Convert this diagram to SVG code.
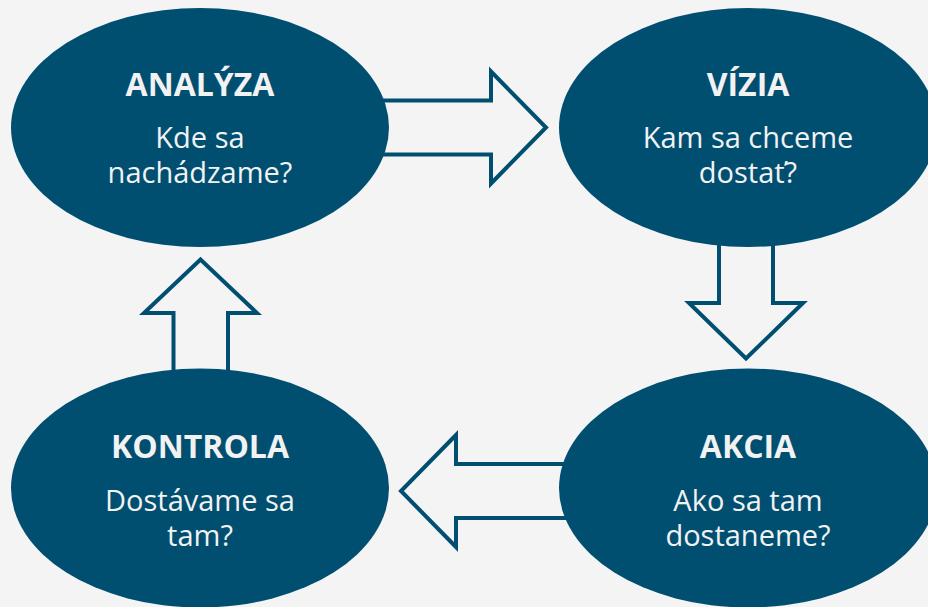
<svg xmlns="http://www.w3.org/2000/svg" width="928" height="607" viewBox="0 0 928 607">
<style>
.bg{fill:#f4f4f4}
.arrow{fill:#f4f4f4;stroke:#004f71;stroke-width:4;stroke-linejoin:miter}
.node{fill:#004f71}
.title{font-family:"Open Sans","Liberation Sans",sans-serif;font-weight:bold;font-size:32px;fill:#f2f2f2;text-anchor:middle}
.body{font-family:"Open Sans","Liberation Sans",sans-serif;font-size:29px;fill:#f2f2f2;text-anchor:middle}
</style>
<rect class="bg" x="0" y="0" width="928" height="607"/>
<g id="connectors">
<path class="arrow" d="M360,100.5 H491 V71.5 L546,127.5 L491,183.5 V154.5 H360 Z"/>
<path class="arrow" d="M719,230 V303 H689 L746,358.5 L803,303 H773 V230 Z"/>
<path class="arrow" d="M590,464 H456 V435 L401,491 L456,547 V518 H590 Z"/>
<path class="arrow" d="M173.5,390 V313 H144 L200.5,259.5 L257,313 H228 V390 Z"/>
</g>
<g id="analyza">
<ellipse class="node" cx="200" cy="127.5" rx="189" ry="119.5"/>
<text class="title" x="200" y="96">ANALÝZA</text>
<text class="body" x="200" y="148">Kde sa</text>
<text class="body" x="200" y="182.5">nachádzame?</text>
</g>
<g id="vizia">
<ellipse class="node" cx="748" cy="127.5" rx="189" ry="119.5"/>
<text class="title" x="748" y="96">VÍZIA</text>
<text class="body" x="748" y="148">Kam sa chceme</text>
<text class="body" x="748" y="182.5">dostať?</text>
</g>
<g id="kontrola">
<ellipse class="node" cx="200" cy="488" rx="189" ry="119.5"/>
<text class="title" x="200" y="458">KONTROLA</text>
<text class="body" x="200" y="510.5">Dostávame sa</text>
<text class="body" x="200" y="545.5">tam?</text>
</g>
<g id="akcia">
<ellipse class="node" cx="748" cy="488" rx="189" ry="119.5"/>
<text class="title" x="748" y="458">AKCIA</text>
<text class="body" x="748" y="510.5">Ako sa tam</text>
<text class="body" x="748" y="545.5">dostaneme?</text>
</g>
</svg>
